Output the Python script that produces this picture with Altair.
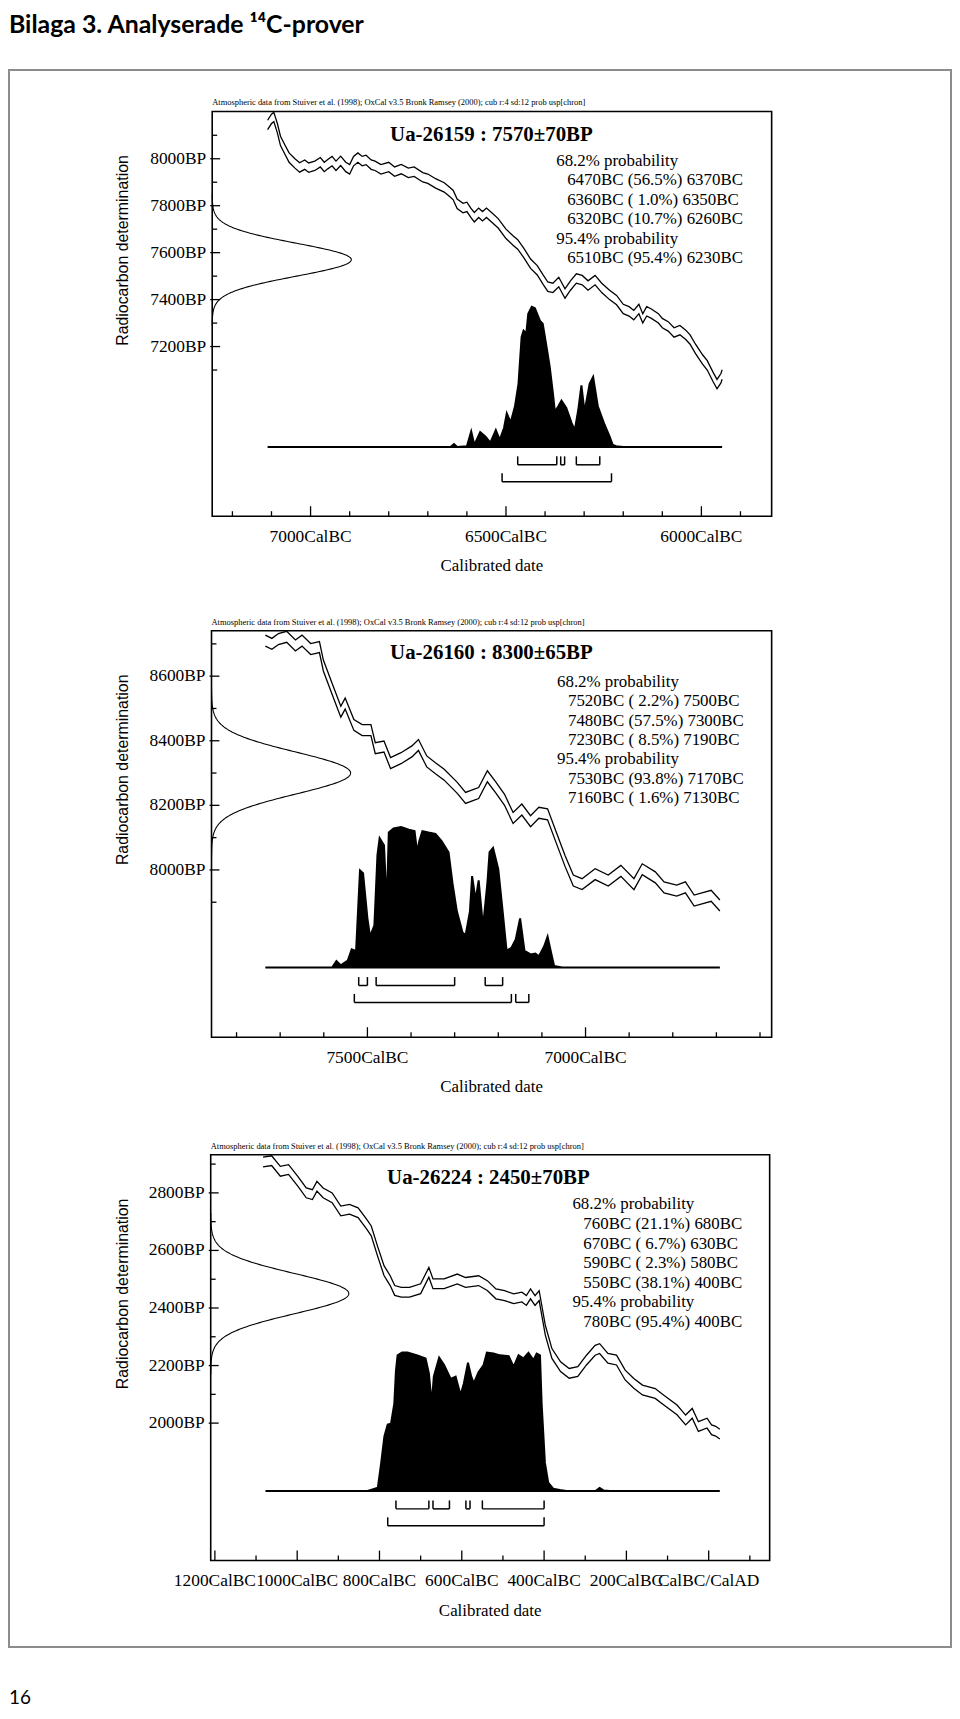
import altair as alt
import pandas as pd

OFF = 8  # page margin of the html page

# ---------------- page texts ----------------
PAGE_TITLE = "Bilaga 3. Analyserade \u00b9\u2074C-prover"
PAGE_NO = "16"
SUBTITLE = ("Atmospheric data from Stuiver et al. (1998); OxCal v3.5 Bronk Ramsey (2000); "
            "cub r:4 sd:12 prob usp[chron]")
X_TITLE = "Calibrated date"
Y_TITLE = "Radiocarbon determination"

# ---------------- panel 1 : Ua-26159 ----------------
p1_id, p1_bp, p1_err = "Ua-26159", 7570, 70
p1_r68 = [[6470, 56.5, 6370], [6360, 1.0, 6350], [6320, 10.7, 6260]]
p1_r95 = [[6510, 95.4, 6230]]
p1_cal_bc = [7110, 7100, 7094, 7085, 7077, 7066, 7055, 7040, 7028, 7015, 7005, 6989, 6975, 6965,
             6956, 6945, 6935, 6923, 6910, 6900, 6890, 6879, 6868, 6858, 6845, 6835, 6820, 6800,
             6785, 6768, 6750, 6735, 6713, 6700, 6680, 6658, 6645, 6635, 6625, 6610, 6600, 6590,
             6581, 6570, 6560, 6550, 6537, 6520, 6500, 6482, 6470, 6455, 6437, 6420, 6405, 6393,
             6380, 6365, 6349, 6335, 6320, 6305, 6290, 6272, 6255, 6235, 6217, 6200, 6185, 6173,
             6160, 6150, 6140, 6129, 6110, 6100, 6085, 6070, 6055, 6040, 6029, 6015, 5997, 5985,
             5970, 5960, 5950, 5947]
p1_cal_bp = [8144, 8170, 8178, 8130, 8076, 8040, 8005, 7980, 7963, 7975, 7962, 7970, 7985, 7965,
             7977, 7990, 7970, 7991, 7965, 7955, 7990, 8005, 7990, 7995, 7975, 7970, 7955, 7965,
             7945, 7956, 7940, 7945, 7921, 7915, 7895, 7878, 7860, 7845, 7808, 7790, 7795, 7770,
             7751, 7770, 7755, 7770, 7751, 7725, 7680, 7652, 7635, 7600, 7553, 7525, 7485, 7455,
             7450, 7475, 7426, 7460, 7490, 7483, 7460, 7483, 7450, 7420, 7398, 7360, 7350, 7334,
             7360, 7320, 7350, 7341, 7320, 7300, 7286, 7260, 7270, 7250, 7230, 7190, 7145, 7120,
             7070, 7040, 7065, 7081]
p1_cal_sd = 20
p1_prob_bc = [7110, 6660, 6642, 6633, 6625, 6600, 6589, 6581, 6566, 6553, 6540, 6526, 6516, 6505,
              6498, 6488, 6477, 6468, 6460, 6455, 6448, 6443, 6434, 6426, 6413, 6406, 6396, 6388,
              6379, 6375, 6366, 6358, 6346, 6332, 6324, 6315, 6307, 6299, 6286, 6277, 6265, 6248,
              6235, 6227, 6218, 6200, 5947]
p1_prob = [0, 0, 0, 2, 0, 0.5, 11, 1.5, 10.5, 7.5, 3, 12, 5, 13.5,
           24, 17.5, 29, 45, 78.5, 83, 81, 95, 100, 99, 90, 88, 71, 57,
           36, 25, 29, 33, 28, 17, 12, 26.5, 44, 25, 45, 50, 29, 16,
           7.5, 1.5, 0.5, 0, 0]
p1_x_ticks = [7200, 7100, 7000, 6900, 6800, 6700, 6600, 6500, 6400, 6300, 6200, 6100, 6000, 5900]
p1_x_major = [7000, 6500, 6000]
p1_y_ticks = [7100, 7200, 7300, 7400, 7500, 7600, 7700, 7800, 7900, 8000, 8100]
p1_y_major = [7200, 7400, 7600, 7800, 8000]

# ---------------- panel 2 : Ua-26160 ----------------
p2_id, p2_bp, p2_err = "Ua-26160", 8300, 65
p2_r68 = [[7520, 2.2, 7500], [7480, 57.5, 7300], [7230, 8.5, 7190]]
p2_r95 = [[7530, 93.8, 7170], [7160, 1.6, 7130]]
p2_cal_bc = [7734, 7719, 7704, 7685, 7665, 7650, 7630, 7610, 7601, 7581, 7561, 7551, 7531, 7512,
             7492, 7482, 7462, 7447, 7423, 7398, 7383, 7364, 7344, 7324, 7294, 7275, 7255, 7245,
             7225, 7205, 7186, 7166, 7146, 7126, 7107, 7087, 7067, 7047, 7028, 7008, 6978, 6948,
             6919, 6889, 6870, 6840, 6820, 6791, 6771, 6751, 6712, 6692]
p2_cal_bp = [8710, 8700, 8715, 8722, 8695, 8710, 8684, 8690, 8633, 8561, 8490, 8515, 8449, 8433,
             8433, 8377, 8382, 8331, 8346, 8367, 8387, 8336, 8315, 8295, 8254, 8223, 8233, 8238,
             8290, 8254, 8218, 8161, 8187, 8151, 8177, 8172, 8100, 8028, 7967, 7956, 7987, 7967,
             7997, 7956, 8002, 7977, 7946, 7936, 7946, 7905, 7920, 7890]
p2_cal_sd = 17
p2_prob_bc = [7734, 7590, 7581, 7571, 7561, 7545, 7536, 7526, 7517, 7510, 7500, 7494, 7484, 7477,
              7472, 7462, 7458, 7454, 7451, 7440, 7423, 7405, 7392, 7386, 7381, 7374, 7360, 7344,
              7330, 7314, 7305, 7295, 7282, 7275, 7265, 7260, 7252, 7245, 7235, 7225, 7220, 7212,
              7200, 7190, 7181, 7170, 7160, 7150, 7140, 7126, 7115, 7107, 7095, 7087, 7077, 7072,
              7060, 7050, 6692]
p2_prob = [0, 0, 0, 4.7, 1.6, 5, 13, 11.7, 69, 67, 35, 22, 30, 80,
           92, 87, 60, 62, 96, 99, 100, 98, 97, 82, 90, 97, 96, 95,
           90, 82, 60, 40, 25, 22.8, 40, 65, 48, 62, 29, 60, 82, 85,
           70, 40, 12, 14, 20, 35, 12, 9.4, 10, 8, 15, 22, 8, 1.1,
           0.5, 0, 0]
p2_x_ticks = [7800, 7700, 7600, 7500, 7400, 7300, 7200, 7100, 7000, 6900, 6800, 6700, 6600]
p2_x_major = [7500, 7000]
p2_y_ticks = [7900, 8000, 8100, 8200, 8300, 8400, 8500, 8600, 8700]
p2_y_major = [8000, 8200, 8400, 8600]

# ---------------- panel 3 : Ua-26224 ----------------
p3_id, p3_bp, p3_err = "Ua-26224", 2450, 70
p3_r68 = [[760, 21.1, 680], [670, 6.7, 630], [590, 2.3, 580], [550, 38.1, 400]]
p3_r95 = [[780, 95.4, 400]]
# calendar years BC (negative = AD)
p3_cal_bc = [1083, 1062, 1041, 1021, 999, 978, 963, 952, 937, 915, 894, 873, 852, 831,
             820, 805, 789, 774, 763, 747, 727, 700, 680, 670, 643, 611, 591, 559,
             538, 517, 496, 474, 454, 443, 433, 422, 412, 407, 397, 381, 360, 339,
             318, 297, 276, 265, 245, 224, 203, 182, 161, 130, 109, 77, 56, 40,
             25, 4, -7, -17, -27]
p3_cal_bp = [2907, 2912, 2875, 2881, 2841, 2800, 2794, 2823, 2800, 2783, 2737, 2743, 2731, 2691,
             2668, 2599, 2530, 2495, 2461, 2455, 2455, 2467, 2524, 2484, 2484, 2501, 2489, 2495,
             2478, 2449, 2443, 2432, 2438, 2426, 2449, 2426, 2443, 2403, 2323, 2242, 2196, 2173,
             2179, 2219, 2253, 2259, 2225, 2219, 2167, 2138, 2115, 2103, 2080, 2046, 2011, 2034,
             1988, 2000, 1977, 1972, 1962]
p3_cal_sd = 17
p3_prob_bc = [1077, 840, 829, 817, 804, 796, 788, 780, 772, 764, 760, 756, 745, 732,
              720, 708, 688, 680, 673, 668, 655, 643, 627, 615, 603, 595, 585, 577,
              571, 559, 547, 539, 523, 507, 486, 474, 462, 450, 438, 426, 418, 410,
              406, 398, 390, 378, 362, 346, 275, 265, 255, 240, -27]
p3_prob = [0, 0, 0, 1.2, 2.4, 20, 39.5, 48, 48.6, 63, 87, 98, 100, 100,
           99, 98, 95.7, 85, 63, 82.6, 96.4, 91, 81, 82.6, 69.4, 77.7, 92.6, 82.6,
           77.7, 86, 91, 100, 99.3, 98, 97.4, 89.7, 98, 95.7, 99.8, 94.5, 99.3, 98,
           63.4, 20.3, 6, 1.7, 0.7, 0, 0, 2.2, 0.3, 0, 0]
p3_x_ticks = [1200, 1100, 1000, 900, 800, 700, 600, 500, 400, 300, 200, 100, 0, -100]
p3_x_major = [1200, 1000, 800, 600, 400, 200, 0]
p3_y_ticks = [2000, 2100, 2200, 2300, 2400, 2500, 2600, 2700, 2800, 2900]
p3_y_major = [2000, 2200, 2400, 2600, 2800]

# ---------------- layout (page pixel coordinates) ----------------
L1 = dict(left=213.5, right=776.5, top=106.7, bottom=514.0, xa=(-7000, 312.5), xb=(-6000, 705.8),
          ya=(7200, 343.3), yb=(8000, 154.3), base=444.3, peak=141.0, gw=140.0, cx=494.5,
          title_y=130.0, prob_x=559.7, prob_y=156.7, dy=19.5)
L2 = dict(left=212.8, right=776.5, top=629.3, bottom=1038.3, xa=(-7500, 369.7), xb=(-7000, 589.2),
          ya=(8000, 870.0), yb=(8600, 675.0), base=968.3, peak=141.6, gw=140.0, cx=494.5,
          title_y=651.7, prob_x=560.5, prob_y=681.0, dy=19.45)
L3 = dict(left=212.0, right=774.5, top=1156.7, bottom=1565.0, xa=(-1200, 216.2), xb=(-400, 547.5),
          ya=(2000, 1426.7), yb=(2800, 1195.0), base=1495.0, peak=139.3, gw=139.0, cx=491.5,
          title_y=1180.0, prob_x=576.0, prob_y=1206.7, dy=19.7)

SERIF = "Liberation Serif"
SANS = "Liberation Sans"
ONE = pd.DataFrame({"k": [0]})


def year_label(bc):
    if bc == 0:
        return "CalBC/CalAD"
    if bc > 0:
        return f"{bc}CalBC"
    return f"{-bc}CalAD"


def txt(s, x, y, **kw):
    return alt.Chart(pd.DataFrame({"t": [s]})).mark_text(**kw).encode(
        x=alt.value(x - OFF), y=alt.value(y - OFF), text="t:N")


def panel(L, sid, mean, err, r68, r95, cal_bc, cal_bp, cal_sd, prob_bc, prob,
          xt, xmaj, yt, ymaj):
    o = OFF
    X = alt.Scale(domain=[L["xa"][0], L["xb"][0]], range=[L["xa"][1] - o, L["xb"][1] - o],
                  zero=False, nice=False)
    Y = alt.Scale(domain=[L["ya"][0], L["yb"][0]], range=[L["ya"][1] - o, L["yb"][1] - o],
                  zero=False, nice=False)
    PR = alt.Scale(domain=[0, 100], range=[L["base"] - o, L["base"] - L["peak"] - o],
                   zero=True, nice=False)
    G = alt.Scale(domain=[0, 1], range=[L["left"] - o, L["left"] + L["gw"] - o],
                  zero=False, nice=False)
    ROW = alt.Scale(domain=[0, 1], range=[L["base"] + 9.5 - o, L["base"] + 26.5 - o],
                    zero=False, nice=False)
    layers = []

    # plot box
    layers.append(alt.Chart(ONE).mark_rect(fillOpacity=0, stroke="black", strokeWidth=1.6).encode(
        x=alt.value(L["left"] - o), x2=alt.value(L["right"] - o),
        y=alt.value(L["top"] - o), y2=alt.value(L["bottom"] - o)))

    # calibration curve (+/- 1 sigma)
    cal = pd.DataFrame({"yr": [-v for v in cal_bc], "bp": cal_bp, "sd": [cal_sd] * len(cal_bc)})
    layers.append(alt.Chart(cal).transform_calculate(
        hi="datum.bp + datum.sd", lo="datum.bp - datum.sd"
    ).transform_fold(["hi", "lo"], as_=["side", "v"]).mark_line(
        color="black", strokeWidth=1.3).encode(
        x=alt.X("yr:Q", scale=X, axis=None), y=alt.Y("v:Q", scale=Y, axis=None),
        detail="side:N"))

    # calibrated probability distribution
    pdist = pd.DataFrame({"yr": [-v for v in prob_bc], "p": prob})
    layers.append(alt.Chart(pdist).mark_area(color="black", stroke="black", strokeWidth=2,
                                             fillOpacity=1).encode(
        x=alt.X("yr:Q", scale=X, axis=None),
        y=alt.Y("p:Q", scale=PR, axis=None, stack=None)))

    # measurement distribution on the radiocarbon axis
    layers.append(alt.Chart(alt.sequence(-4, 4.001, 0.04, as_="t")).transform_calculate(
        bp=f"{mean} + datum.t * {err}", g="exp(-0.5 * datum.t * datum.t)"
    ).mark_line(color="black", strokeWidth=1.1).encode(
        x=alt.X("g:Q", scale=G, axis=None), y=alt.Y("bp:Q", scale=Y, axis=None), order="t:Q"))

    # range brackets
    br = pd.DataFrame([{"a": -r[0], "b": -r[2], "row": 0} for r in r68] +
                      [{"a": -r[0], "b": -r[2], "row": 1} for r in r95])
    layers.append(alt.Chart(br).transform_calculate(rb="datum.row + 0.5").mark_rule(
        color="black", strokeWidth=1.5).encode(
        x=alt.X("a:Q", scale=X, axis=None), x2="b:Q", y=alt.Y("rb:Q", scale=ROW, axis=None)))
    layers.append(alt.Chart(br).transform_fold(["a", "b"], as_=["edge", "e"]).transform_calculate(
        rb="datum.row + 0.5").mark_rule(color="black", strokeWidth=1.5).encode(
        x=alt.X("e:Q", scale=X, axis=None), y=alt.Y("row:Q", scale=ROW, axis=None), y2="rb:Q"))

    # x ticks (inward)
    xminor = pd.DataFrame({"yr": [-v for v in xt if v not in xmaj]})
    xmajor = pd.DataFrame({"yr": [-v for v in xmaj]})
    layers.append(alt.Chart(xminor).mark_rule(color="black", strokeWidth=1.3).encode(
        x=alt.X("yr:Q", scale=X, axis=None), y=alt.value(L["bottom"] - o),
        y2=alt.value(L["bottom"] - o - 5)))
    layers.append(alt.Chart(xmajor).mark_rule(color="black", strokeWidth=1.3).encode(
        x=alt.X("yr:Q", scale=X, axis=None), y=alt.value(L["bottom"] - o),
        y2=alt.value(L["bottom"] - o - 10)))
    xl = pd.DataFrame({"yr": [-v for v in xmaj], "lab": [year_label(v) for v in xmaj]})
    layers.append(alt.Chart(xl).mark_text(font=SERIF, fontSize=17.5, baseline="middle",
                                          align="center").encode(
        x=alt.X("yr:Q", scale=X, axis=None), y=alt.value(L["bottom"] - o + 20.5), text="lab:N"))

    # y ticks (inward)
    yminor = pd.DataFrame({"bp": [v for v in yt if v not in ymaj]})
    ymajor = pd.DataFrame({"bp": ymaj, "lab": [f"{v}BP" for v in ymaj]})
    layers.append(alt.Chart(yminor).mark_rule(color="black", strokeWidth=1.3).encode(
        y=alt.Y("bp:Q", scale=Y, axis=None), x=alt.value(L["left"] - o),
        x2=alt.value(L["left"] - o + 5)))
    layers.append(alt.Chart(ymajor).mark_rule(color="black", strokeWidth=1.3).encode(
        y=alt.Y("bp:Q", scale=Y, axis=None), x=alt.value(L["left"] - o - 2),
        x2=alt.value(L["left"] - o + 8)))
    layers.append(alt.Chart(ymajor).mark_text(font=SERIF, fontSize=17.5, baseline="middle",
                                              align="right").encode(
        y=alt.Y("bp:Q", scale=Y, axis=None), x=alt.value(L["left"] - o - 6), text="lab:N"))

    # texts
    layers.append(txt(SUBTITLE, L["left"], L["top"] - 9, font=SERIF, fontSize=8.5,
                      align="left", baseline="middle"))
    layers.append(txt(f"{sid} : {mean}\u00b1{err}BP", L["cx"], L["title_y"], font=SERIF,
                      fontSize=21, fontWeight="bold", align="center", baseline="middle"))
    layers.append(txt(X_TITLE, (L["left"] + L["right"]) / 2, L["bottom"] + 50.5, font=SERIF,
                      fontSize=17, align="center", baseline="middle"))
    layers.append(txt(Y_TITLE, 123.5, L["top"] + 44, font=SANS, fontSize=16, angle=270,
                      align="right", baseline="middle"))

    # probability text block
    lines = [("68.2% probability", 0)] + [(f"{a}BC ({p:4.1f}%) {b}BC", 1) for a, p, b in r68] + \
            [("95.4% probability", 0)] + [(f"{a}BC ({p:4.1f}%) {b}BC", 1) for a, p, b in r95]
    pt = pd.DataFrame({"t": [s for s, _ in lines], "ind": [i for _, i in lines],
                       "ln": list(range(len(lines)))})
    layers.append(alt.Chart(pt).mark_text(font=SERIF, fontSize=17, align="left",
                                          baseline="middle").encode(
        x=alt.X("ind:Q", scale=alt.Scale(domain=[0, 1],
                                         range=[L["prob_x"] - o, L["prob_x"] + 11 - o]), axis=None),
        y=alt.Y("ln:Q", scale=alt.Scale(domain=[0, 1],
                                        range=[L["prob_y"] - o, L["prob_y"] + L["dy"] - o]), axis=None),
        text="t:N"))
    return layers


layers = []
# page frame
layers.append(alt.Chart(ONE).mark_rect(fillOpacity=0, stroke="#8c8c8c", strokeWidth=2).encode(
    x=alt.value(1), x2=alt.value(949), y=alt.value(57), y2=alt.value(1644)))
layers.append(txt(PAGE_TITLE, OFF + 1, 28, font="Lato", fontSize=25, fontWeight="bold",
                  align="left", baseline="alphabetic"))
layers.append(txt(PAGE_NO, OFF + 1, 1709, font="Lato", fontSize=19, align="left",
                  baseline="alphabetic"))

layers += panel(L1, p1_id, p1_bp, p1_err, p1_r68, p1_r95, p1_cal_bc, p1_cal_bp, p1_cal_sd,
                p1_prob_bc, p1_prob, p1_x_ticks, p1_x_major, p1_y_ticks, p1_y_major)
layers += panel(L2, p2_id, p2_bp, p2_err, p2_r68, p2_r95, p2_cal_bc, p2_cal_bp, p2_cal_sd,
                p2_prob_bc, p2_prob, p2_x_ticks, p2_x_major, p2_y_ticks, p2_y_major)
layers += panel(L3, p3_id, p3_bp, p3_err, p3_r68, p3_r95, p3_cal_bc, p3_cal_bp, p3_cal_sd,
                p3_prob_bc, p3_prob, p3_x_ticks, p3_x_major, p3_y_ticks, p3_y_major)

chart = alt.layer(*layers).resolve_scale(x="independent", y="independent").properties(
    width=950, height=1703, padding=0, autosize=alt.AutoSizeParams(type="none"),
    background="white"
).configure_view(stroke=None)

chart.save("out.html", embed_options={"renderer": "svg", "actions": False})
